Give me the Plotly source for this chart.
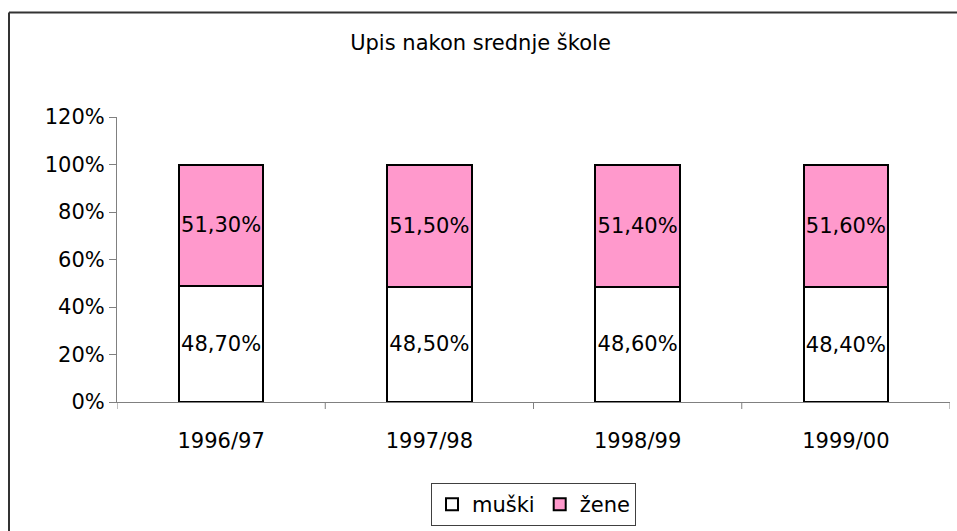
import plotly.graph_objects as go

categories = ["1996/97", "1997/98", "1998/99", "1999/00"]
muski = [48.7, 48.5, 48.6, 48.4]
zene = [51.3, 51.5, 51.4, 51.6]
muski_labels = ["48,70%", "48,50%", "48,60%", "48,40%"]
zene_labels = ["51,30%", "51,50%", "51,40%", "51,60%"]
y_ticks = [0, 20, 40, 60, 80, 100, 120]
y_tick_labels = ["0%", "20%", "40%", "60%", "80%", "100%", "120%"]

OFF = 0  # body margin removed by post_script
W, H = 957, 531
L, R, T, B = 117, 7, 117, 129
pw, ph = W - L - R, H - T - B

def px_x(x):
    return (x - OFF - L) / pw

def px_y(y):
    return (H - B - (y - OFF)) / ph

FS = 21
font = dict(family="DejaVu Sans, Liberation Sans, Arial, sans-serif", size=FS, color="black")

fig = go.Figure()
fig.add_trace(go.Bar(
    x=categories, y=muski, name="muški", text=muski_labels,
    textposition="inside", insidetextanchor="middle", constraintext="none",
    textangle=0, cliponaxis=False,
    textfont=font, marker=dict(color="white", line=dict(color="black", width=2)),
    hoverinfo="skip",
))
fig.add_trace(go.Bar(
    x=categories, y=zene, name="žene", text=zene_labels,
    textposition="inside", insidetextanchor="middle", constraintext="none",
    textangle=0, cliponaxis=False,
    textfont=font, marker=dict(color="#FF99CC", line=dict(color="black", width=2)),
    hoverinfo="skip",
))

fig.update_layout(
    width=W, height=H, barmode="stack", bargap=0.595,
    margin=dict(l=L, r=R, t=T, b=B, autoexpand=False),
    paper_bgcolor="white", plot_bgcolor="white",
    font=font,
    title=dict(text="Upis nakon srednje škole", x=px_x(480.5), xanchor="center", xref="paper",
               y=1 - (43 - OFF) / H, yanchor="middle", font=dict(size=FS)),
    legend=dict(orientation="h", x=px_x(533.5), xanchor="center",
                y=px_y(483), yanchor="top", bordercolor="#404040", borderwidth=1,
                font=dict(size=FS), itemwidth=30, traceorder="normal",
                bgcolor="white", tracegroupgap=0),
    xaxis=dict(showline=True, linecolor="#808080", linewidth=1,
               ticks="", tickfont=font, showgrid=False,
               range=[-0.5, 3.5], ticklabelstandoff=20),
    yaxis=dict(range=[0, 120], tickvals=y_ticks, ticktext=y_tick_labels,
               showline=True, linecolor="#808080", linewidth=1,
               ticks="outside", ticklen=7, tickcolor="#808080",
               showgrid=False, zeroline=False, tickfont=font),
    shapes=[
        dict(type="line", xref="paper", yref="paper",
             x0=px_x(9), x1=px_x(957), y0=px_y(12.5), y1=px_y(12.5),
             line=dict(color="#333333", width=2)),
        dict(type="line", xref="paper", yref="paper",
             x0=px_x(9), x1=px_x(9), y0=px_y(12.5), y1=px_y(531),
             line=dict(color="#333333", width=2)),
    ] + [
        dict(type="line", xref="x", yref="paper",
             x0=i - 0.5, x1=i - 0.5, y0=0, y1=px_y(409),
             line=dict(color="#808080", width=1))
        for i in range(5)
    ],
)

fig.write_html(
    "out.html",
    config={"displayModeBar": False},
    post_script="document.body.style.margin='0px';document.body.style.overflow='hidden';",
)
